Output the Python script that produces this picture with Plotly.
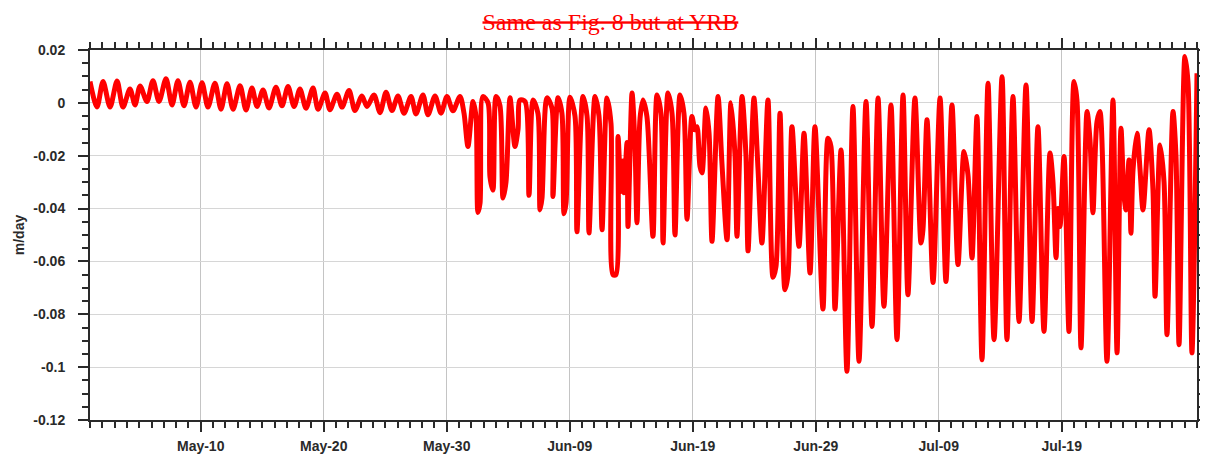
import pandas as pd
import plotly.graph_objects as go

# ---- data ----
start_date = "2012-05-01"
day_offset = [
    0.00, 0.57, 1.06, 1.63, 2.20, 2.68, 3.25, 3.66, 4.07, 4.63, 5.12, 5.61, 6.18, 6.67, 7.15, 7.64,
    8.13, 8.62, 9.11, 9.59, 10.16, 10.65, 11.14, 11.63, 12.20, 12.68, 13.17, 13.58, 14.07, 14.55,
    15.12, 15.61, 16.10, 16.59, 17.07, 17.56, 18.13, 18.54, 19.11, 19.51, 20.08, 20.49, 21.06, 21.54,
    22.11, 22.52, 23.09, 23.58, 24.07, 24.55, 25.04, 25.53, 26.10, 26.50, 27.07, 27.48, 28.05, 28.54,
    29.02, 29.51, 30.08, 30.41, 30.73, 31.14, 31.38, 31.54, 31.71, 31.95, 32.36, 32.52, 32.76, 33.01,
    33.33, 33.58, 33.82, 34.15, 34.55, 34.80, 34.96, 35.37, 35.69, 36.02, 36.42, 36.59, 36.75, 37.15,
    37.56, 37.64, 38.05, 38.37, 38.54, 38.70, 39.02, 39.43, 39.59, 40.08, 40.41, 40.57, 41.06, 41.38,
    41.63, 42.03, 42.36, 42.52, 42.76, 42.93, 43.17, 43.33, 43.41, 43.66, 43.74, 44.07, 44.31, 44.47,
    44.72, 44.96, 45.28, 45.77, 46.10, 46.42, 46.59, 46.99, 47.32, 47.56, 47.97, 48.29, 48.54, 48.94,
    49.19, 49.35, 49.59, 49.76, 50.08, 50.33, 50.57, 51.06, 51.38, 51.79, 52.11, 52.44, 52.60, 53.01,
    53.33, 53.50, 53.98, 54.31, 54.63, 55.12, 55.53, 55.77, 56.10, 56.50, 56.75, 57.07, 57.64, 58.05,
    58.54, 58.94, 59.59, 60.00, 60.24, 60.57, 61.06, 61.54, 62.03, 62.52, 63.09, 63.58, 64.07, 64.55,
    65.12, 65.61, 66.10, 66.50, 67.07, 67.56, 67.72, 68.05, 68.54, 69.11, 69.59, 70.08, 70.57, 71.06,
    71.38, 71.71, 72.11, 72.52, 73.01, 73.50, 74.15, 74.55, 75.04, 75.53, 76.10, 76.59, 77.07, 77.56,
    78.05, 78.29, 78.54, 78.70, 78.86, 79.19, 79.59, 80.00, 80.24, 80.57, 81.06, 81.30, 81.54, 81.87,
    82.11, 82.68, 83.17, 83.50, 83.82, 84.07, 84.23, 84.47, 84.63, 84.80, 85.12, 85.37, 85.61, 86.10,
    86.42, 86.59, 87.00, 87.32, 87.56, 88.05, 88.29, 88.54, 89.02, 89.27, 89.59, 90.00,
]
flux = [
    0.0081, -0.0016, 0.0081, -0.0016, 0.0083, -0.0016, 0.0052, -0.0008, 0.0064, 0.0005, 0.0084, 0.0005,
    0.0091, -0.0008, 0.0084, -0.0011, 0.0078, -0.0016, 0.0076, -0.0016, 0.0074, -0.0024, 0.0072, -0.0024,
    0.0065, -0.0027, 0.0056, -0.0014, 0.0049, -0.0019, 0.0059, -0.0011, 0.0062, -0.0014, 0.0052, -0.0020,
    0.0056, -0.0024, 0.0037, -0.0026, 0.0033, -0.0016, 0.0047, -0.0029, 0.0026, -0.0014, 0.0030, -0.0037,
    0.0040, -0.0029, 0.0026, -0.0039, 0.0024, -0.0042, 0.0030, -0.0045, 0.0026, -0.0039, 0.0024, -0.0030,
    0.0024, -0.0040, -0.0165, 0.0005, -0.0052, -0.0415, -0.0380, 0.0024, 0.0000, -0.0280, -0.0330, 0.0024,
    -0.0010, -0.0360, -0.0300, 0.0019, -0.0165, -0.0100, 0.0011, 0.0005, -0.0350, 0.0011, -0.0040, -0.0405,
    -0.0360, 0.0019, -0.0020, -0.0354, 0.0019, -0.0040, -0.0420, -0.0380, 0.0021, -0.0050, -0.0488, 0.0024,
    -0.0050, -0.0492, 0.0024, -0.0050, -0.0480, 0.0018, -0.0080, -0.0650, -0.0650, -0.0127, -0.0335, -0.0220,
    -0.0340, -0.0150, -0.0468, 0.0037, -0.0165, -0.0454, -0.0057, 0.0011, -0.0052, -0.0505, 0.0030, -0.0040,
    -0.0530, 0.0037, -0.0040, -0.0500, 0.0030, -0.0040, -0.0440, -0.0052, -0.0102, -0.0090, -0.0240, -0.0265,
    -0.0019, -0.0115, -0.0524, 0.0024, -0.0230, -0.0518, 0.0000, -0.0200, -0.0505, 0.0024, -0.0200, -0.0560,
    0.0018, -0.0250, -0.0530, 0.0011, -0.0660, -0.0620, -0.0039, -0.0707, -0.0650, -0.0090, -0.0543, -0.0115,
    -0.0644, -0.0090, -0.0780, -0.0134, -0.0165, -0.0780, -0.0178, -0.1016, -0.0014, -0.0978, 0.0005, -0.0846,
    0.0018, -0.0770, -0.0008, -0.0896, 0.0030, -0.0726, 0.0018, -0.0530, -0.0480, -0.0064, -0.0680, 0.0018,
    -0.0676, -0.0008, -0.0612, -0.0184, -0.0272, -0.0587, -0.0052, -0.0972, 0.0074, -0.0896, 0.0099, -0.0896,
    0.0024, -0.0827, 0.0068, -0.0827, -0.0090, -0.0865, -0.0190, -0.0298, -0.0586, -0.0400, -0.0468, -0.0203,
    -0.0865, 0.0081, 0.0011, -0.0927, -0.0033, -0.0140, -0.0416, -0.0071, -0.0033, -0.0978, 0.0011, -0.0946,
    -0.0096, -0.0354, -0.0405, -0.0216, -0.0493, -0.0253, -0.0115, -0.0253, -0.0405, -0.0102, -0.0330, -0.0732,
    -0.0159, -0.0300, -0.0877, -0.0033, -0.0200, -0.0915, 0.0175, 0.0076, -0.0946, 0.0112,
]
x_tick_dates = ["2012-05-10", "2012-05-20", "2012-05-30", "2012-06-09",
                "2012-06-19", "2012-06-29", "2012-07-09", "2012-07-19"]
x_tick_labels = ["May-10", "May-20", "May-30", "Jun-09", "Jun-19", "Jun-29", "Jul-09", "Jul-19"]
y_tick_vals = [0.02, 0.0, -0.02, -0.04, -0.06, -0.08, -0.1, -0.12]
y_tick_labels = ["0.02", "0", "-0.02", "-0.04", "-0.06", "-0.08", "-0.1", "-0.12"]
x_range = ["2012-05-01", "2012-07-30"]
y_range = [-0.12, 0.02]

times = pd.Timestamp(start_date) + pd.to_timedelta(day_offset, unit="D")

fig = go.Figure()
fig.add_trace(go.Scatter(
    x=times, y=flux, mode="lines",
    line=dict(color="#ff0000", width=5, shape="spline", smoothing=0.8),
    showlegend=False,
))

FONT = "Liberation Sans, Arial, sans-serif"
INK = "#2a2a2a"
label_font = dict(family=FONT, size=14, color=INK, weight="bold")

# the page body adds an 8px offset, so the figure is sized to the visible area
fig.update_layout(
    width=1200, height=453,
    margin=dict(l=82, r=11, t=42, b=41, autoexpand=False),
    paper_bgcolor="white", plot_bgcolor="white",
    title=dict(
        text="<s>Same as Fig. 8 but at YRB</s>",
        font=dict(family="Liberation Serif, Times New Roman, serif", size=24, color="#ff0000"),
        x=0.502, xanchor="center", xref="container",
        y=0.971, yanchor="middle", yref="container",
    ),
)
fig.update_xaxes(
    type="date", range=x_range, automargin=False,
    tickmode="array", tickvals=x_tick_dates, ticktext=x_tick_labels,
    tickfont=label_font,
    ticks="outside", ticklen=10, tickwidth=2, tickcolor=INK,
    showline=True, linewidth=2, linecolor=INK, mirror="ticks",
    showgrid=True, gridcolor="#c4c4c4", gridwidth=1,
    zeroline=False, ticklabelstandoff=2,
    minor=dict(tickmode="linear", tick0="2012-05-01", dtick=86400000,
               ticks="outside", ticklen=6, tickwidth=2, tickcolor=INK, showgrid=False),
)
fig.update_yaxes(
    range=y_range, automargin=False,
    tickmode="array", tickvals=y_tick_vals, ticktext=y_tick_labels,
    tickfont=label_font,
    ticks="outside", ticklen=10, tickwidth=2, tickcolor=INK,
    showline=True, linewidth=2, linecolor=INK, mirror="ticks",
    showgrid=True, gridcolor="#d6d6d6", gridwidth=1,
    zeroline=False, ticklabelstandoff=10,
    title=dict(text="m/day", standoff=5, font=label_font),
    minor=dict(tickmode="linear", tick0=0, dtick=0.005,
               ticks="outside", ticklen=6, tickwidth=2, tickcolor=INK, showgrid=False),
)

fig.write_html("out.html")
